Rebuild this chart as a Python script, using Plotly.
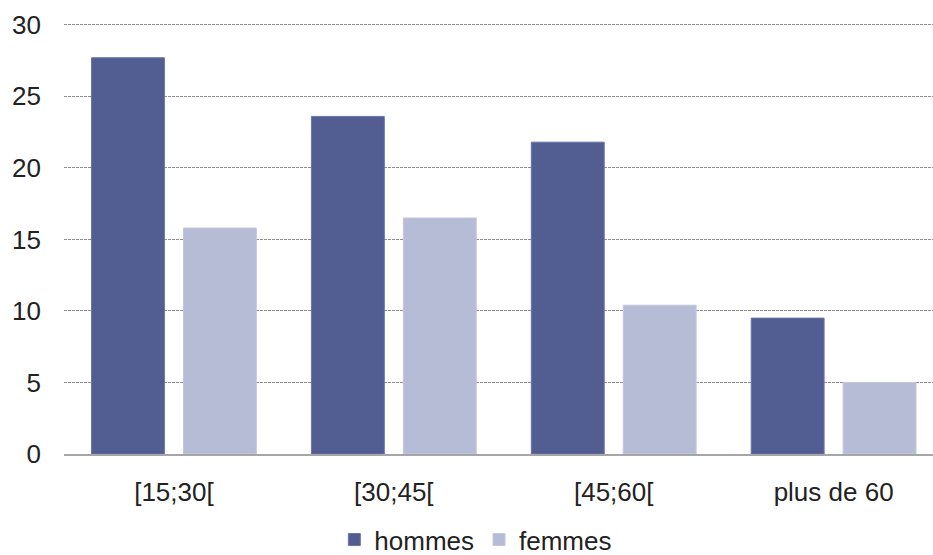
import plotly.graph_objects as go

# Age groups and shares (%) by sex
categories = ["[15;30[", "[30;45[", "[45;60[", "plus de 60"]
hommes = [27.7, 23.6, 21.8, 9.5]
femmes = [15.8, 16.5, 10.4, 5.0]
y_ticks = [0, 5, 10, 15, 20, 25, 30]

font_family = "Liberation Sans, Arial, Helvetica, sans-serif"
text_color = "#222222"

fig = go.Figure()
fig.add_trace(go.Bar(
    x=categories, y=hommes, name="hommes",
    marker=dict(color="#525E91", line=dict(color="#6A75A3", width=1)),
))
fig.add_trace(go.Bar(
    x=categories, y=femmes, name="femmes",
    marker=dict(color="#B7BCD6", line=dict(color="#C3C7DD", width=1)),
))

fig.update_layout(
    width=933, height=555,
    margin=dict(l=63.5, r=0, t=22, b=100.5, pad=0),
    paper_bgcolor="white", plot_bgcolor="white",
    barmode="group", bargap=0.164, bargroupgap=0.207,
    font=dict(family=font_family, size=26, color=text_color),
    showlegend=True,
    legend=dict(
        orientation="h", xref="container", yref="container",
        x=0.510, xanchor="center", y=0.07, yanchor="top",
        font=dict(size=26, color=text_color), itemwidth=30,
        traceorder="normal", bgcolor="rgba(0,0,0,0)",
    ),
)

fig.update_xaxes(
    range=[-0.5, 3.452], showgrid=False, zeroline=False,
    showline=True, linecolor="#A6A6A6", linewidth=1.5,
    ticks="", ticklabelstandoff=14,
    tickfont=dict(size=26, color=text_color),
)
fig.update_yaxes(
    range=[0, 30.2], tickvals=y_ticks, ticktext=[str(v) for v in y_ticks],
    showgrid=True, gridcolor="#8E8E8E", gridwidth=1, griddash="3px,1px",
    zeroline=False, showline=False, ticks="", ticklabelstandoff=22,
    tickfont=dict(size=26, color=text_color),
)

fig.write_html("out.html")
